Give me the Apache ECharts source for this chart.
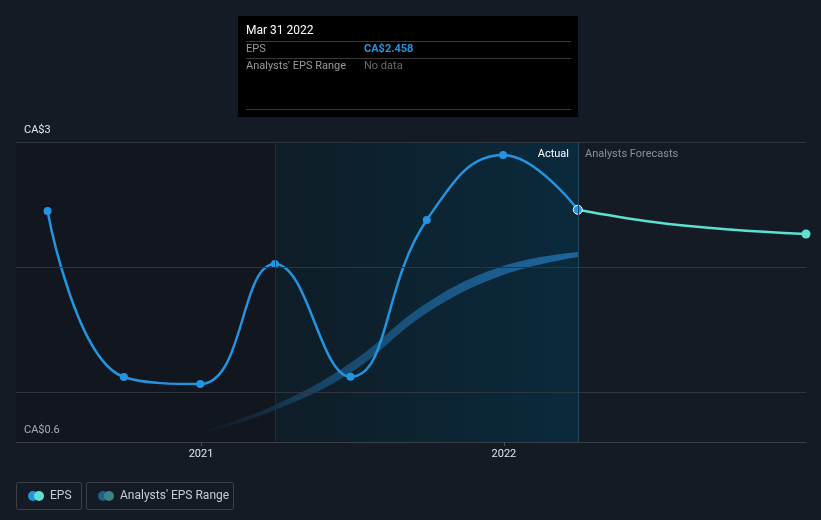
<!DOCTYPE html>
<html>
<head>
<meta charset="utf-8">
<script src="https://cdn.jsdelivr.net/npm/echarts@6/dist/echarts.min.js"></script>
<style>
html,body{margin:0;padding:0;background:#151b25;}
#c{width:821px;height:520px;}
</style>
</head>
<body>
<div id="c"></div>
<script>
// ---- data ----
var epsDates = ['2020-06-30','2020-09-30','2020-12-31','2021-03-31','2021-06-30','2021-09-30','2021-12-31','2022-03-31'];
var epsValues = [2.448, 1.12, 1.064, 2.024, 1.122, 2.376, 2.896, 2.458];
var forecastDates = ['2022-03-31','2022-06-30','2022-09-30','2022-12-31'];
var forecastValues = [2.458, 2.36, 2.30, 2.264];
var rangeDates = ['2020-12-31','2021-03-31','2021-06-30','2021-09-30','2021-12-31','2022-03-31'];
var rangeLow = [0.66, 0.856, 1.152, 1.632, 1.936, 2.08];
var rangeHigh = [0.68, 0.896, 1.232, 1.712, 2.008, 2.12];
var yLabelValues = [0.6, 3];
var gridValues = [1, 2, 3];
var xMin = '2020-05-23';
var xMax = '2022-12-31';
var pastYearStart = '2021-03-31';
var lastActual = '2022-03-31';

var FONT = 'Roboto, "Noto Sans", sans-serif';
var chart = echarts.init(document.getElementById('c'), null, {renderer:'canvas'});

var epsData = epsDates.map(function(d,i){
  var item = {value:[d, epsValues[i]]};
  if (i === epsDates.length-1) {
    item.itemStyle = {color:'#2394df', borderColor:'#ffffff', borderWidth:1};
    item.symbolSize = 9;
  }
  return item;
});
var fcData = forecastDates.map(function(d,i){
  var item = {value:[d, forecastValues[i]]};
  if (i === forecastDates.length-1) { item.symbol = 'circle'; item.symbolSize = 9; }
  return item;
});
var lowData = rangeDates.map(function(d,i){ return [d, rangeLow[i]]; });
var diffData = rangeDates.map(function(d,i){ return [d, +(rangeHigh[i]-rangeLow[i]).toFixed(4)]; });

var option = {
  backgroundColor:'#151b25',
  animation:false,
  textStyle:{fontFamily:FONT},
  grid:{left:16, right:15, top:142, bottom:78, containLabel:false},
  xAxis:{
    type:'time', min:xMin, max:xMax,
    minInterval:365*24*3600*1000, maxInterval:366*24*3600*1000,
    axisLine:{show:true, lineStyle:{color:'#3a3f48', width:1}},
    axisTick:{show:true, length:4, lineStyle:{color:'#4a505a'}},
    splitLine:{show:false},
    axisLabel:{color:'#e3e6ea', fontSize:11, fontFamily:FONT, margin:7,
      formatter:function(v){ return echarts.time.format(v,'{yyyy}',false); }}
  },
  yAxis:{
    type:'value', min:0.6, max:3,
    axisLine:{show:false}, axisTick:{show:false}, splitLine:{show:false},
    axisLabel:{inside:true, customValues:yLabelValues, color:'#e3e6ea', fontSize:11, fontFamily:FONT,
      margin:8, align:'left', verticalAlign:'bottom', padding:[0,0,6,0],
      showMinLabel:true, showMaxLabel:true,
      formatter:function(v){ return (Math.abs(v-0.6)<1e-6 || Math.abs(v-3)<1e-6) ? 'CA$'+(+v.toFixed(1)) : ''; }}
  },
  series:[
    { // background regions + gridlines
      type:'line', data:[], silent:true, z:0,
      markArea:{silent:true, data:[
        [{xAxis:xMin, itemStyle:{color:'rgba(8,12,18,0.28)'}}, {xAxis:pastYearStart}],
        [{xAxis:pastYearStart, itemStyle:{color:{type:'linear',x:0,y:0,x2:1,y2:0,colorStops:[
          {offset:0,color:'#0f1d27'},{offset:1,color:'#0a2a3c'}]}}}, {xAxis:lastActual}]
      ]},
      markLine:{silent:true, symbol:['none','none'], label:{show:false},
        data: gridValues.map(function(v){ return {yAxis:v, lineStyle:{color:'#2f353f', width:1, type:'solid'}}; })
          .concat([
            {xAxis:pastYearStart, lineStyle:{color:'#1f2f3a', width:1, type:'solid'}},
            {xAxis:lastActual, lineStyle:{color:'#1e4b5e', width:1, type:'solid'}}
          ])}
    },
    { name:'rangeLow', type:'line', stack:'band', data:lowData, smooth:0.4, symbol:'none',
      lineStyle:{width:0, opacity:0}, silent:true, z:2 },
    { name:"Analysts' EPS Range", type:'line', stack:'band', data:diffData, smooth:0.4, symbol:'none',
      lineStyle:{width:0, opacity:0}, silent:true, z:2,
      areaStyle:{opacity:1, color:{type:'linear',x:0,y:0,x2:1,y2:0,colorStops:[
        {offset:0,color:'rgba(31,105,160,0)'},{offset:0.35,color:'rgba(31,105,160,0.55)'},{offset:1,color:'rgba(31,105,160,0.95)'}]}} },
    { name:'Forecast', type:'line', data:fcData, smooth:0.4, symbol:'none',
      lineStyle:{color:'#5ce0d2', width:2.5}, itemStyle:{color:'#5ce0d2'}, z:3 },
    { name:'EPS', type:'line', data:epsData, smooth:0.45, symbol:'circle', symbolSize:8, showSymbol:true,
      lineStyle:{color:'#2394df', width:2.5}, itemStyle:{color:'#2394df'}, z:4 }
  ],
  graphic:[
    // section labels
    {type:'text', x:569, y:154, style:{text:'Actual', fill:'#ffffff', font:'11px '+FONT, align:'right', verticalAlign:'middle'}, z:10},
    {type:'text', x:585, y:154, style:{text:'Analysts Forecasts', fill:'#8b9199', font:'11px '+FONT, align:'left', verticalAlign:'middle'}, z:10},
    // tooltip box
    {type:'rect', shape:{x:238, y:16, width:340, height:101}, style:{fill:'#000000'}, z:20},
    {type:'text', x:246, y:31, style:{text:'Mar 31 2022', fill:'#ffffff', font:'12px '+FONT, verticalAlign:'middle'}, z:21},
    {type:'line', shape:{x1:246, y1:41.5, x2:571, y2:41.5}, style:{stroke:'#3a3a3a', lineWidth:1}, z:21},
    {type:'text', x:246, y:49, style:{text:'EPS', fill:'#9a9a9a', font:'11px '+FONT, verticalAlign:'middle'}, z:21},
    {type:'text', x:364, y:49, style:{text:'CA$2.458', fill:'#2394df', font:'bold 11px '+FONT, verticalAlign:'middle'}, z:21},
    {type:'line', shape:{x1:246, y1:58.5, x2:571, y2:58.5}, style:{stroke:'#3a3a3a', lineWidth:1}, z:21},
    {type:'text', x:246, y:66, style:{text:"Analysts' EPS Range", fill:'#9a9a9a', font:'11px '+FONT, verticalAlign:'middle'}, z:21},
    {type:'text', x:364, y:66, style:{text:'No data', fill:'#6a6a6a', font:'11px '+FONT, verticalAlign:'middle'}, z:21},
    {type:'line', shape:{x1:246, y1:109.5, x2:571, y2:109.5}, style:{stroke:'#3a3a3a', lineWidth:1}, z:21},
    // legend
    {type:'rect', shape:{x:16.5, y:482.5, width:65, height:27, r:2}, style:{fill:'none', stroke:'#3b4049', lineWidth:1}, z:10},
    {type:'circle', shape:{cx:33, cy:496, r:5}, style:{fill:'#2394df'}, z:11},
    {type:'circle', shape:{cx:39, cy:496, r:5}, style:{fill:'#5ce0d2'}, z:12},
    {type:'text', x:50, y:496, style:{text:'EPS', fill:'#c9cdd3', font:'12px '+FONT, verticalAlign:'middle'}, z:11},
    {type:'rect', shape:{x:86.5, y:482.5, width:147, height:27, r:2}, style:{fill:'none', stroke:'#3b4049', lineWidth:1}, z:10},
    {type:'circle', shape:{cx:103, cy:496, r:5}, style:{fill:'#1f5f8a'}, z:11},
    {type:'circle', shape:{cx:109, cy:496, r:5}, style:{fill:'#3d8585'}, z:12},
    {type:'text', x:120, y:496, style:{text:"Analysts' EPS Range", fill:'#c9cdd3', font:'12px '+FONT, verticalAlign:'middle'}, z:11}
  ]
};
chart.setOption(option);
</script>
</body>
</html>
